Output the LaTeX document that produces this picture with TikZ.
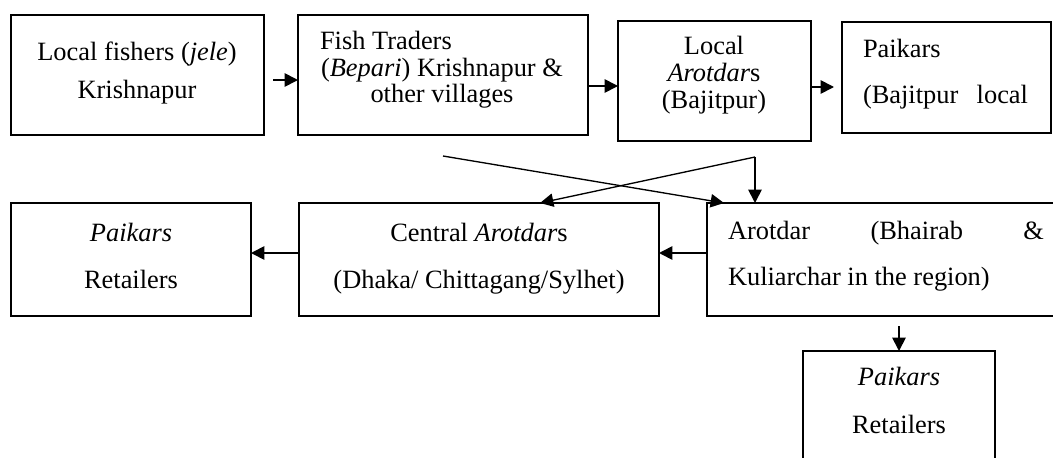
\documentclass[tikz,border=0pt]{standalone}
\usepackage{fontspec}
\setmainfont{Liberation Serif}
\usetikzlibrary{arrows.meta}
\tikzset{
  box/.style={draw, line width=1.3pt, inner sep=0pt, outer sep=0pt},
  txt/.style={inner sep=0pt, outer sep=0pt, font=\fontsize{19.8pt}{24pt}\selectfont},
  arr/.style={line width=1.3pt, -{Triangle[length=10pt,width=10pt]}},
  xarr/.style={line width=1pt, -{Triangle[length=10pt,width=10pt]}}
}
\begin{document}
\begin{tikzpicture}[x=0.75pt, y=-0.75pt]
\useasboundingbox (0,0) rectangle (1053,457);
\clip (0,0) rectangle (1053,457);
% boxes
\node[box, minimum width=253*0.75pt, minimum height=120*0.75pt] (b1) at (137.5,75) {};
\node[box, minimum width=290*0.75pt, minimum height=120*0.75pt] (b2) at (443,75) {};
\node[box, minimum width=193*0.75pt, minimum height=120*0.75pt] (b3) at (714.5,81) {};
\node[box, minimum width=209*0.75pt, minimum height=111*0.75pt] (b4) at (946.5,77.5) {};
\node[box, minimum width=240*0.75pt, minimum height=113*0.75pt] (b5) at (131,259.5) {};
\node[box, minimum width=360*0.75pt, minimum height=113*0.75pt] (b6) at (479,259.5) {};
\node[box, minimum width=363*0.75pt, minimum height=113*0.75pt] (b7) at (888.5,259.5) {};
\node[box, minimum width=192*0.75pt, minimum height=129*0.75pt] (b8) at (899,415.5) {};
% texts
\node[txt, anchor=base] (t1a) at (137,60) {Local fishers (\textit{jele})};
\node[txt, anchor=base] (t1b) at (137,98) {Krishnapur};
\node[txt, anchor=base west] (t2a) at (320,49) {Fish Traders};
\node[txt, anchor=base west] (t2b) at (321,76) {(\textit{Bepari}) Krishnapur \&};
\node[txt, anchor=base] (t2c) at (442,102) {other villages};
\node[txt, anchor=base] (t3a) at (714,54) {Local};
\node[txt, anchor=base] (t3b) at (714,81) {\textit{Arotdar}s};
\node[txt, anchor=base] (t3c) at (714,108) {(Bajitpur)};
\node[txt, anchor=base west] (t4a) at (863,57) {Paikars};
\node[txt, anchor=base west] (t4b) at (863,103) {\makebox[123.75pt][s]{(Bajitpur local}};
\node[txt, anchor=base] (t5a) at (131,241) {\textit{Paikars}};
\node[txt, anchor=base] (t5b) at (131,288) {Retailers};
\node[txt, anchor=base] (t6a) at (479,241) {Central \textit{Arotdar}s};
\node[txt, anchor=base] (t6b) at (479,288) {(Dhaka/ Chittagang/Sylhet)};
\node[txt, anchor=base west] (t7a) at (728,239) {\makebox[237pt][s]{Arotdar (Bhairab \&}};
\node[txt, anchor=base west] (t7b) at (728,285) {Kuliarchar in the region)};
\node[txt, anchor=base] (t8a) at (899,385) {\textit{Paikars}};
\node[txt, anchor=base] (t8b) at (899,433) {Retailers};
% connector helper coordinates
\coordinate (a1s) at (273,80);
\coordinate (a2) at (0,86);
\coordinate (a3e) at (834,87);
\coordinate (r2) at (0,253);
\coordinate (c1) at (443,156);
\coordinate (c1e) at (724,203);
\coordinate (c2) at (755,157);
\coordinate (c2e) at (540,203);
\coordinate (d1) at (899,326);
% connectors
\draw[arr] (a1s) -- (b2.west |- a1s);
\draw[arr] (b2.east |- a2) -- (b3.west |- a2);
\draw[arr] (b3.east |- a3e) -- (a3e);
\draw[xarr] (c1) -- (c1e);
\draw[xarr] (c2) -- (c2e);
\draw[arr] (c2) -- (c2 |- b7.north);
\draw[arr] (b7.west |- r2) -- (b6.east |- r2);
\draw[arr] (b6.west |- r2) -- (b5.east |- r2);
\draw[arr] (d1) -- (d1 |- b8.north);
\end{tikzpicture}
\end{document}
